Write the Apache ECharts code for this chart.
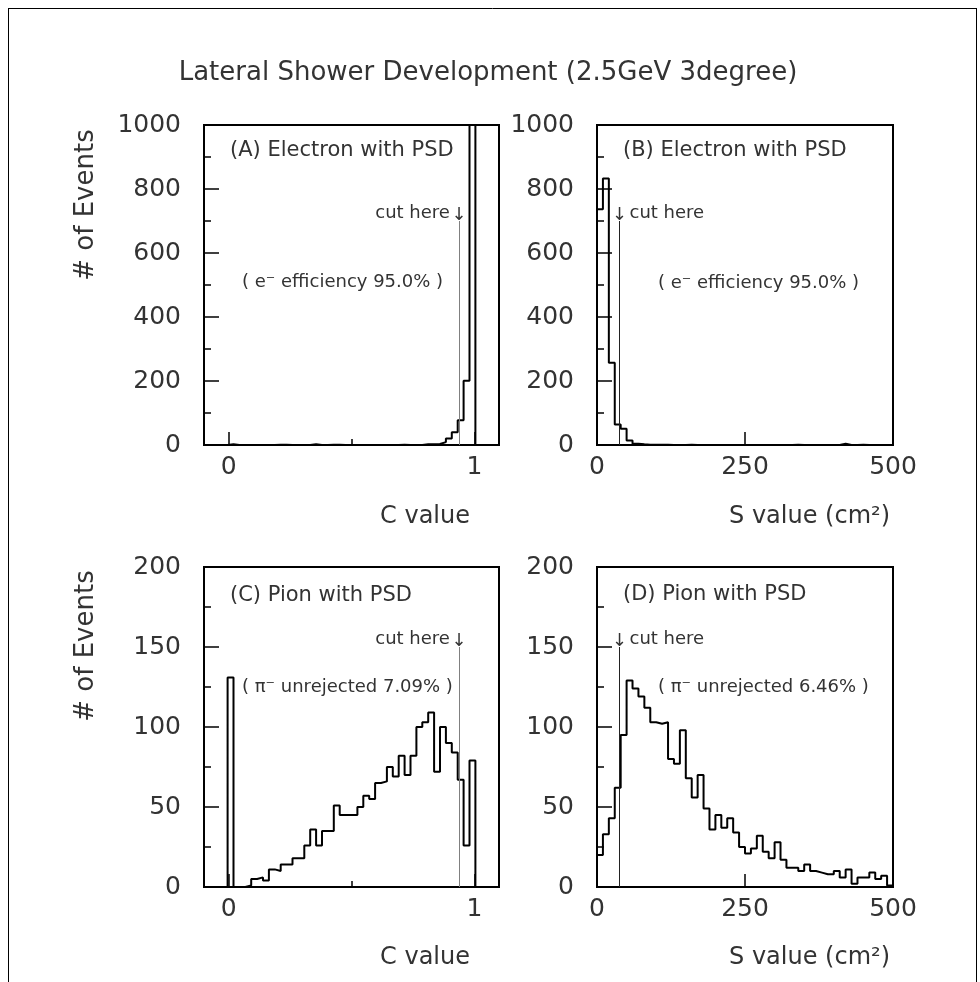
<!DOCTYPE html>
<html><head><meta charset="utf-8">
<script src="https://cdn.jsdelivr.net/npm/echarts@6/dist/echarts.min.js"></script>
<style>html,body{margin:0;padding:0;background:#fff}#c{width:980px;height:982px}</style>
</head><body><div id="c"></div>
<script>
// ---- binning (bin edges) ----
const cBinStart = -0.1, cBinWidth = 0.024;   // C value: 50 bins from -0.1 to 1.1
const sBinStart = 0, sBinWidth = 10;         // S value: 50 bins from 0 to 500

// ---- histogram contents (events per bin) ----
const electronC = [0,0,0,0,2,0,0,0,0,0, 0,0,1,1,0,0,0,0,2,0, 0,1,1,0,0,0,0,0,0,0, 0,0,0,1,0,0,0,2,2,3, 9,20,40,77,201,1550,0,0,0,0];
const electronS = [737,833,257,64,51,14,4,2,1,1, 1,1,0,0,0,1,0,0,0,0, 0,0,0,0,0,0,0,0,0,0, 0,0,0,1,0,0,0,0,0,0, 0,4,0,0,1,0,0,0,0,0];
const pionC = [0,0,0,0,131,0,0,1,5,6, 4,11,10,14,14,18,18,26,36,26, 35,35,51,45,45,45,50,57,55,65, 66,75,69,82,70,82,100,103,109,72, 100,90,84,67,26,79,0,0,0,0];
const pionS = [20,33,43,62,95,129,124,119,112,103, 102,103,80,77,98,68,56,70,49,36, 45,37,43,34,25,21,24,32,22,18, 28,17,12,12,10,14,10,9,8,8, 10,6,11,2,6,6,9,5,7,1];

// ---- axes ----
const cRange = [-0.1, 1.1];
const sRange = [0, 500];
const cTickValues = [0, 1];
const cMinorTickValues = [0.5];
const sInterval = 250;
const eYRange = [0, 1000], eYInterval = 200;
const pYRange = [0, 200], pYInterval = 50;

// ---- cuts ----
const cutC = 0.937, cutS = 38;
const cutTopElectron = 700, cutTopPion = 150;

// ---- texts ----
const titleText = 'Lateral Shower Development (2.5GeV 3degree)';
const yTitle = '# of Events';
const panelLabels = ['(A) Electron with PSD', '(B) Electron with PSD', '(C) Pion with PSD', '(D) Pion with PSD'];
const effTexts = ['( e\u207B efficiency 95.0% )', '( e\u207B efficiency 95.0% )', '( \u03C0\u207B unrejected 7.09% )', '( \u03C0\u207B unrejected 6.46% )'];
const xNames = ['C value', 'S value (cm\u00B2)', 'C value', 'S value (cm\u00B2)'];

function histPoints(start, width, values) {
  const pts = [[start, 0]];
  values.forEach((v, k) => pts.push([start + k * width, v]));
  pts.push([start + values.length * width, 0]);
  return pts;
}

const FONT = 'DejaVu Sans';
const TXT = '#333';
const grids = [
  {left: 204, top: 125, width: 295, height: 320},
  {left: 597, top: 125, width: 296, height: 320},
  {left: 204, top: 567, width: 295, height: 320},
  {left: 597, top: 567, width: 296, height: 320}
].map(g => Object.assign(g, {show: true, borderColor: '#000', borderWidth: 2, backgroundColor: 'transparent', containLabel: false}));

const tickStyle = {color: '#000', width: 1.5};
const lblStyle = {color: TXT, fontSize: 25, fontFamily: FONT, formatter: v => String(v)};

function cAxisMain(gi) {
  return {type: 'value', gridIndex: gi, min: cRange[0], max: cRange[1], position: 'bottom',
    axisLine: {show: false, onZero: false}, splitLine: {show: false},
    axisTick: {show: true, inside: true, length: 13, customValues: cTickValues, lineStyle: tickStyle},
    axisLabel: Object.assign({show: true, margin: 10, customValues: cTickValues}, lblStyle)};
}
function cAxisMinor(gi) {
  return {type: 'value', gridIndex: gi, min: cRange[0], max: cRange[1], position: 'bottom',
    axisLine: {show: false, onZero: false}, splitLine: {show: false},
    axisTick: {show: true, inside: true, length: 6, customValues: cMinorTickValues, lineStyle: tickStyle},
    axisLabel: {show: false}};
}
function sAxis(gi) {
  return {type: 'value', gridIndex: gi, min: sRange[0], max: sRange[1], interval: sInterval, position: 'bottom',
    axisLine: {show: false, onZero: false}, splitLine: {show: false},
    axisTick: {show: true, inside: true, length: 13, lineStyle: tickStyle},
    axisLabel: Object.assign({show: true, margin: 10, showMinLabel: true, showMaxLabel: true}, lblStyle)};
}
function yAxis(gi, range, interval) {
  return {type: 'value', gridIndex: gi, min: range[0], max: range[1], interval: interval, position: 'left',
    axisLine: {show: false, onZero: false}, splitLine: {show: false},
    axisTick: {show: true, inside: true, length: 15, lineStyle: tickStyle},
    minorTick: {show: true, splitNumber: 2, length: 7, lineStyle: tickStyle},
    axisLabel: Object.assign({show: true, margin: 23}, lblStyle)};
}

function histSeries(xi, yi, start, width, values, cutX, cutTop, cutColor) {
  return {type: 'line', xAxisIndex: xi, yAxisIndex: yi, step: 'end', symbol: 'none', clip: true,
    data: histPoints(start, width, values), lineStyle: {color: '#000', width: 2}, z: 3,
    markLine: {silent: true, symbol: 'none', label: {show: false}, animation: false,
      lineStyle: {color: cutColor, width: 1, type: 'solid'},
      data: [[{coord: [cutX, 0]}, {coord: [cutX, cutTop]}]]}};
}

const chart = echarts.init(document.getElementById('c'), null, {renderer: 'canvas'});
const option = {
  animation: false,
  backgroundColor: '#fff',
  grid: grids,
  xAxis: [cAxisMain(0), cAxisMinor(0), sAxis(1), cAxisMain(2), cAxisMinor(2), sAxis(3)],
  yAxis: [yAxis(0, eYRange, eYInterval), yAxis(1, eYRange, eYInterval), yAxis(2, pYRange, pYInterval), yAxis(3, pYRange, pYInterval)],
  series: [
    histSeries(0, 0, cBinStart, cBinWidth, electronC, cutC, cutTopElectron, '#808080'),
    histSeries(2, 1, sBinStart, sBinWidth, electronS, cutS, cutTopElectron, '#222'),
    histSeries(3, 2, cBinStart, cBinWidth, pionC, cutC, cutTopPion, '#808080'),
    histSeries(5, 3, sBinStart, sBinWidth, pionS, cutS, cutTopPion, '#222')
  ]
};
chart.setOption(option);

// annotations positioned after axes exist
function txt(x, y, text, size, align, vAlign, extra) {
  return Object.assign({type: 'text', x: x, y: y, silent: true, z: 10,
    style: {text: text, fill: TXT, fontSize: size, fontFamily: FONT, align: align || 'left', verticalAlign: vAlign || 'middle'}}, extra || {});
}
const g = [];
g.push({type: 'line', shape: {x1: 8.5, y1: 8, x2: 8.5, y2: 982}, style: {stroke: '#000', lineWidth: 1}, silent: true});
g.push({type: 'line', shape: {x1: 8, y1: 8.5, x2: 977, y2: 8.5}, style: {stroke: '#000', lineWidth: 1}, silent: true});
g.push({type: 'line', shape: {x1: 976.5, y1: 8, x2: 976.5, y2: 982}, style: {stroke: '#000', lineWidth: 1}, silent: true});
g.push(txt(488, 73, titleText, 26, 'center'));
g.push(txt(86, 205, yTitle, 26, 'center', 'middle', {rotation: Math.PI / 2}));
g.push(txt(86, 646, yTitle, 26, 'center', 'middle', {rotation: Math.PI / 2}));

const panelInfo = [
  {grid: 0, cut: cutC, top: cutTopElectron, side: 'left', labelY: 151, effX: 242, effY: 282, nameY: 517, nameX: 470},
  {grid: 1, cut: cutS, top: cutTopElectron, side: 'right', labelY: 151, effX: 658, effY: 283, nameY: 517, nameX: 890},
  {grid: 2, cut: cutC, top: cutTopPion, side: 'left', labelY: 596, effX: 242, effY: 687, nameY: 958, nameX: 470},
  {grid: 3, cut: cutS, top: cutTopPion, side: 'right', labelY: 595, effX: 658, effY: 687, nameY: 958, nameX: 890}
];
panelInfo.forEach((p, i) => {
  const gr = grids[p.grid];
  g.push(txt(gr.left + 26, p.labelY, panelLabels[i], 21, 'left'));
  g.push(txt(p.effX, p.effY, effTexts[i], 18, 'left'));
  g.push(txt(p.nameX, p.nameY, xNames[i], 24, 'right'));
  const pt = chart.convertToPixel({gridIndex: p.grid}, [p.cut, p.top]);
  g.push(txt(pt[0], pt[1] + 3, '\u2193', 18, 'center', 'bottom'));
  if (p.side === 'left') {
    g.push(txt(pt[0] - 9, pt[1] - 8, 'cut here', 18, 'right'));
  } else {
    g.push(txt(pt[0] + 10, pt[1] - 8, 'cut here', 18, 'left'));
  }
});
chart.setOption({graphic: g});
</script>
</body></html>
